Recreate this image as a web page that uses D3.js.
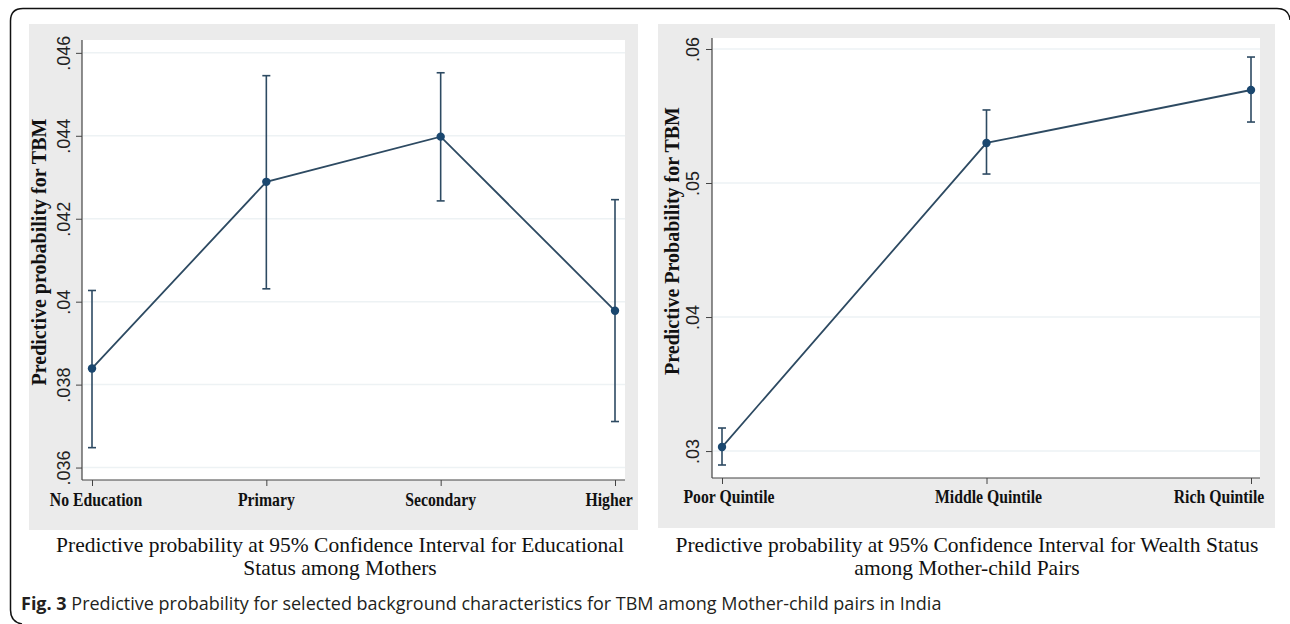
<!DOCTYPE html>
<html>
<head>
<meta charset="utf-8">
<script src="https://cdn.jsdelivr.net/npm/d3@7"></script>
<style>
  body { margin: 0; background: #fff; }
  svg { display: block; }
</style>
</head>
<body>
<div id="chart"></div>
<script>
// educational status among mothers
const eduCats = ["No Education", "Primary", "Secondary", "Higher"];
const eduPred = [0.03839, 0.04289, 0.04398, 0.03978];
const eduLow = [0.03648, 0.04031, 0.04243, 0.03711];
const eduHigh = [0.04027, 0.04545, 0.04552, 0.04246];
const eduTicks = [0.036, 0.038, 0.040, 0.042, 0.044, 0.046];

// wealth status among mother-child pairs
const wealthCats = ["Poor Quintile", "Middle Quintile", "Rich Quintile"];
const wealthPred = [0.0303, 0.05299, 0.05694];
const wealthLow = [0.02896, 0.05067, 0.05455];
const wealthHigh = [0.03172, 0.05545, 0.0594];
const wealthTicks = [0.03, 0.04, 0.05, 0.06];

const width = 1290, height = 624;
const lineColor = "#2d4a62";
const dotColor = "#1a476f";
const gridColor = "#edf2f4";
const bgColor = "#ebebeb";

const svg = d3.select("#chart").append("svg")
    .attr("width", width)
    .attr("height", height);

// outer frame (bottom and right edges run off the picture)
svg.append("path")
    .attr("d", "M22,624 Q10.5,622 10.5,610 L10.5,21 Q10.5,8.5 23,8.5 L1277,8.5 Q1289,8.5 1290,20")
    .attr("fill", "none")
    .attr("stroke", "#111")
    .attr("stroke-width", 1.5);

const fmt = d => d3.format(".3~f")(d).replace(/^0/, "");

function drawPanel(cfg) {
    const g = svg.append("g");

    g.append("rect")
        .attr("x", cfg.bg[0]).attr("y", cfg.bg[1])
        .attr("width", cfg.bg[2] - cfg.bg[0]).attr("height", cfg.bg[3] - cfg.bg[1])
        .attr("fill", bgColor);

    const p = cfg.plot;
    g.append("rect")
        .attr("x", p.left).attr("y", p.top)
        .attr("width", p.right - p.left).attr("height", p.bottom - p.top)
        .attr("fill", "#fff");

    const x = d3.scalePoint().domain(cfg.cats).range(cfg.xRange);
    const y = d3.scaleLinear().domain(cfg.yDomain).range([p.bottom, p.top]);

    // gridlines
    g.append("g")
        .selectAll("line")
        .data(cfg.ticks)
        .join("line")
        .attr("x1", p.left + 1).attr("x2", p.right)
        .attr("y1", d => y(d)).attr("y2", d => y(d))
        .attr("stroke", gridColor)
        .attr("stroke-width", 1.5);

    // y axis
    const yAxis = g.append("g")
        .attr("transform", `translate(${p.left},0)`)
        .call(d3.axisLeft(y).tickValues(cfg.ticks).tickFormat(fmt).tickSize(6).tickSizeOuter(0));
    yAxis.select(".domain").remove();
    yAxis.selectAll(".tick line").attr("stroke", "#444");
    yAxis.selectAll(".tick text")
        .attr("transform", "rotate(-90)")
        .attr("x", 0).attr("y", -cfg.yLabelOff).attr("dy", 0)
        .attr("text-anchor", "middle")
        .attr("font-family", "Liberation Sans, Arial, sans-serif")
        .attr("font-size", 18)
        .attr("fill", "#222");
    g.append("line")
        .attr("x1", p.left).attr("x2", p.left)
        .attr("y1", p.top).attr("y2", p.bottom)
        .attr("stroke", "#444").attr("stroke-width", 1.2);

    // x axis
    const xAxis = g.append("g")
        .attr("transform", `translate(0,${p.bottom})`)
        .call(d3.axisBottom(x).tickSize(6).tickSizeOuter(0));
    xAxis.select(".domain").remove();
    xAxis.selectAll(".tick line").attr("stroke", "#444");
    xAxis.selectAll(".tick text").remove();
    g.append("line")
        .attr("x1", p.left).attr("x2", p.right)
        .attr("y1", p.bottom).attr("y2", p.bottom)
        .attr("stroke", "#444").attr("stroke-width", 1.2);

    g.append("g")
        .selectAll("text")
        .data(cfg.cats)
        .join("text")
        .attr("transform", (d, i) => `translate(${x(d) + cfg.labelShift[i]},${cfg.labelY}) scale(0.83,1)`)
        .attr("text-anchor", "middle")
        .attr("font-family", "Liberation Serif, Times New Roman, serif")
        .attr("font-weight", "bold")
        .attr("font-size", 19)
        .attr("fill", "#111")
        .text(d => d);

    // y axis title
    g.append("text")
        .attr("transform", `translate(${cfg.titleX},${cfg.titleY}) rotate(-90)`)
        .attr("text-anchor", "middle")
        .attr("font-family", "Liberation Serif, Times New Roman, serif")
        .attr("font-weight", "bold")
        .attr("font-size", 20)
        .attr("fill", "#111")
        .text(cfg.yTitle);

    // error bars
    const bars = g.append("g")
        .selectAll("g")
        .data(cfg.cats.map((c, i) => ({ cat: c, lo: cfg.low[i], hi: cfg.high[i] })))
        .join("g")
        .attr("stroke", lineColor)
        .attr("stroke-width", 1.6);
    bars.append("line")
        .attr("x1", d => x(d.cat)).attr("x2", d => x(d.cat))
        .attr("y1", d => y(d.lo)).attr("y2", d => y(d.hi));
    bars.append("line")
        .attr("x1", d => x(d.cat) - 4).attr("x2", d => x(d.cat) + 4)
        .attr("y1", d => y(d.hi)).attr("y2", d => y(d.hi));
    bars.append("line")
        .attr("x1", d => x(d.cat) - 4).attr("x2", d => x(d.cat) + 4)
        .attr("y1", d => y(d.lo)).attr("y2", d => y(d.lo));

    // connecting line
    const line = d3.line()
        .x((d, i) => x(cfg.cats[i]))
        .y(d => y(d));
    g.append("path")
        .datum(cfg.pred)
        .attr("d", line)
        .attr("fill", "none")
        .attr("stroke", lineColor)
        .attr("stroke-width", 1.8);

    g.append("g")
        .selectAll("circle")
        .data(cfg.pred)
        .join("circle")
        .attr("cx", (d, i) => x(cfg.cats[i]))
        .attr("cy", d => y(d))
        .attr("r", 4.2)
        .attr("fill", dotColor);

    // caption under panel
    g.append("g")
        .selectAll("text")
        .data(cfg.caption)
        .join("text")
        .attr("x", cfg.captionX)
        .attr("y", (d, i) => 552 + i * 22.5)
        .attr("text-anchor", "middle")
        .attr("font-family", "Liberation Serif, Times New Roman, serif")
        .attr("font-size", 21.5)
        .attr("fill", "#111")
        .text(d => d);
}

drawPanel({
    cats: eduCats, pred: eduPred, low: eduLow, high: eduHigh, ticks: eduTicks,
    bg: [29, 24, 638, 530],
    plot: { left: 82, right: 625, top: 40, bottom: 480 },
    xRange: [92, 615],
    yDomain: [0.0357, 0.04631],
    yLabelOff: 12,
    labelY: 506,
    labelShift: [4, 0, 0, -6],
    titleX: 46, titleY: 252,
    yTitle: "Predictive probability for TBM",
    caption: ["Predictive probability at 95% Confidence Interval for Educational", "Status among Mothers"],
    captionX: 340
});

drawPanel({
    cats: wealthCats, pred: wealthPred, low: wealthLow, high: wealthHigh, ticks: wealthTicks,
    bg: [658, 24, 1275, 528],
    plot: { left: 712, right: 1260, top: 38, bottom: 478 },
    xRange: [722, 1251],
    yDomain: [0.02799, 0.06082],
    yLabelOff: 13,
    labelY: 503,
    labelShift: [7, 2, -32],
    titleX: 679, titleY: 241,
    yTitle: "Predictive Probability for TBM",
    caption: ["Predictive probability at 95% Confidence Interval for Wealth Status", "among Mother-child Pairs"],
    captionX: 967
});

// figure caption
const fig = svg.append("text")
    .attr("x", 21).attr("y", 610)
    .attr("font-family", "Open Sans, sans-serif")
    .attr("font-size", 18)
    .attr("fill", "#231f20");
fig.append("tspan").attr("font-weight", "bold").text("Fig. 3");
fig.append("tspan").text(" Predictive probability for selected background characteristics for TBM among Mother-child pairs in India");
</script>
</body>
</html>
